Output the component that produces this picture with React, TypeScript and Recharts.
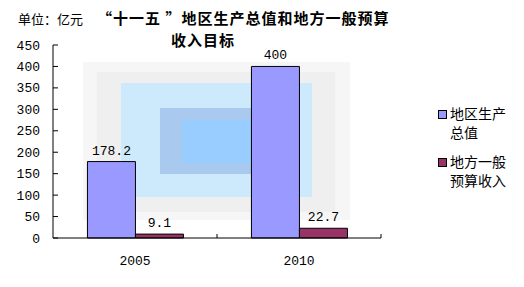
import React from 'react';
import { BarChart, Bar, XAxis, YAxis, LabelList } from 'recharts';

const categories = ['2005', '2010'];
const gdpValues = [178.2, 400];
const budgetValues = [9.1, 22.7];
const yTicks = [0, 50, 100, 150, 200, 250, 300, 350, 400, 450];
const seriesNames = ['地区生产总值', '地方一般预算收入'];
const seriesColors = ['#9999ff', '#993366'];
const unitText = '单位：亿元';
const titleLine1 = '“十一五 ”地区生产总值和地方一般预算';
const titleLine2 = '收入目标';

const data = categories.map((c, i) => ({ year: c, gdp: gdpValues[i], budget: budgetValues[i] }));

const numFont = '"Liberation Mono", "DejaVu Sans Mono", monospace';
const cjkFont = '"Noto Sans CJK SC", sans-serif';

const YTick = (props: any) => {
  const { x, y, payload } = props;
  return (
    <g>
      <line x1={x} y1={y} x2={x + 5} y2={y} stroke="#000" strokeWidth={1} />
      <text x={x - 13} y={y} dy={4.5} textAnchor="end" fontFamily={numFont} fontSize={13} fill="#000">
        {payload.value}
      </text>
    </g>
  );
};

const XTick = (props: any) => {
  const { x, y, payload, index, visibleTicksCount } = props;
  const off = payload.offset || 0;
  const last = index === (visibleTicksCount ?? categories.length) - 1;
  return (
    <g>
      {index > 0 && <line x1={x - off} y1={y} x2={x - off} y2={y - 4} stroke="#000" strokeWidth={1} />}
      {last && <line x1={x + off} y1={y} x2={x + off} y2={y - 4} stroke="#000" strokeWidth={1} />}
      <text x={x} y={y} dy={27} textAnchor="middle" fontFamily={numFont} fontSize={13} fill="#000">
        {payload.value}
      </text>
    </g>
  );
};

const bgRects = [
  { l: 83, t: 62, w: 267, h: 158, c: '#f6f6f6' },
  { l: 97, t: 72, w: 238, h: 140, c: '#efefef' },
  { l: 121, t: 83, w: 191, h: 114, c: '#cdeafc' },
  { l: 160, t: 108, w: 113, h: 66, c: '#a9c9ee' },
  { l: 182, t: 120, w: 69, h: 43, c: '#99ccff' },
];

const titleStyle: React.CSSProperties = {
  position: 'absolute',
  fontFamily: cjkFont,
  fontSize: 15,
  fontWeight: 'bold',
  letterSpacing: 1,
  lineHeight: '22px',
  whiteSpace: 'nowrap',
};

export default function App() {
  return (
    <div style={{ position: 'absolute', left: 0, top: 0, width: 524, height: 287, background: '#fff', overflow: 'hidden' }}>
      {bgRects.map((r, i) => (
        <div key={i} style={{ position: 'absolute', left: r.l, top: r.t, width: r.w, height: r.h, background: r.c }} />
      ))}
      <div style={{ position: 'absolute', left: 18, top: 11, fontFamily: cjkFont, fontSize: 13, lineHeight: '16px', whiteSpace: 'nowrap' }}>
        {unitText}
      </div>
      <div style={{ ...titleStyle, left: 97, top: 7 }}>{titleLine1}</div>
      <div style={{ ...titleStyle, left: 171, top: 29 }}>{titleLine2}</div>
      <div style={{ position: 'absolute', left: 0, top: 0 }}>
        <BarChart
          width={524}
          height={287}
          data={data}
          margin={{ top: 45, right: 143, bottom: 19, left: 8 }}
          barCategoryGap="21%"
          barGap={0}
        >
          <XAxis
            dataKey="year"
            height={30}
            tickLine={false}
            tickSize={0}
            tickMargin={0}
            tick={<XTick />}
            axisLine={{ stroke: '#000', strokeWidth: 1 }}
            interval={0}
          />
          <YAxis
            width={45}
            domain={[0, 450]}
            ticks={yTicks}
            tickLine={false}
            tickSize={0}
            tickMargin={0}
            tick={<YTick />}
            axisLine={{ stroke: '#000', strokeWidth: 1 }}
            interval={0}
          />
          <Bar dataKey="gdp" name={seriesNames[0]} fill={seriesColors[0]} stroke="#000" strokeWidth={1} isAnimationActive={false}>
            <LabelList dataKey="gdp" position="top" offset={7} fontFamily={numFont} fontSize={13} fill="#000" />
          </Bar>
          <Bar dataKey="budget" name={seriesNames[1]} fill={seriesColors[1]} stroke="#000" strokeWidth={1} isAnimationActive={false}>
            <LabelList dataKey="budget" position="top" offset={7} fontFamily={numFont} fontSize={13} fill="#000" />
          </Bar>
        </BarChart>
      </div>
      <div style={{ position: 'absolute', left: 438, top: 104, fontFamily: cjkFont, fontSize: 14, lineHeight: '19px', color: '#000' }}>
        {seriesNames.map((name, i) => (
          <div key={i} style={{ display: 'flex', alignItems: 'flex-start', marginBottom: 10 }}>
            <span
              style={{
                display: 'inline-block',
                width: 7,
                height: 7,
                background: seriesColors[i],
                border: '1px solid #000',
                marginTop: 6,
                marginRight: 3,
                flex: 'none',
              }}
            />
            <span style={{ whiteSpace: 'nowrap' }}>
              {name.slice(0, 4)}
              <br />
              {name.slice(4)}
            </span>
          </div>
        ))}
      </div>
    </div>
  );
}
